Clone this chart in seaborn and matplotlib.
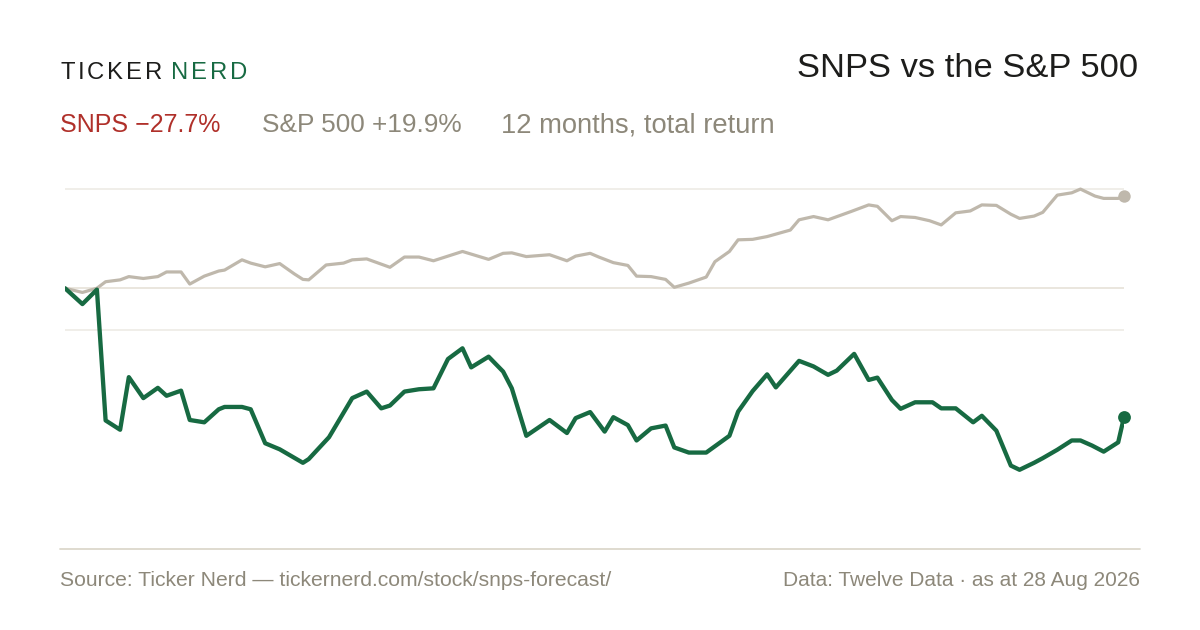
import pandas as pd
import matplotlib.pyplot as plt
from matplotlib.lines import Line2D
import seaborn as sns

# 12-month total return (%); x = days since 28 Aug 2025
snps_days = [0, 6, 11, 14, 19, 22, 27, 32, 35, 40, 43, 48, 53, 55, 61, 64, 69, 74,
             82, 84, 91, 99, 104, 109, 112, 117, 122, 127, 132, 137, 140, 146, 151,
             154, 159, 167, 173, 176, 181, 186, 189, 194, 197, 202, 207, 210, 215,
             221, 229, 232, 237, 242, 245, 253, 258, 263, 266, 272, 277, 280, 285,
             288, 293, 299, 302, 307, 313, 316, 321, 326, 329, 334, 337, 342, 347,
             350, 354, 358, 363, 365]
snps_ret = [0.0, -3.4, -0.3, -28.4, -30.4, -19.1, -23.6, -21.4, -23.1, -22.0, -28.3,
            -28.8, -26.0, -25.5, -25.5, -26.0, -33.3, -34.6, -37.5, -36.7, -32.0,
            -23.6, -22.2, -25.8, -25.2, -22.2, -21.7, -21.5, -15.2, -12.9, -17.0,
            -14.7, -17.9, -21.5, -31.7, -28.3, -31.1, -27.9, -26.6, -30.8, -27.7,
            -29.4, -32.7, -30.1, -29.5, -34.2, -35.3, -35.3, -31.7, -26.5, -22.1,
            -18.5, -21.3, -15.6, -16.8, -18.6, -17.7, -14.1, -19.7, -19.2, -24.0,
            -25.9, -24.5, -24.5, -25.8, -25.8, -28.8, -27.4, -30.6, -38.1, -39.0,
            -37.5, -36.5, -34.7, -32.7, -32.7, -33.8, -35.1, -33.1, -27.7]

spx_days = [0, 6, 11, 14, 19, 22, 27, 32, 35, 40, 43, 48, 53, 55, 61, 64, 69, 74,
            79, 82, 84, 90, 96, 99, 104, 112, 117, 122, 127, 137, 146, 151, 154,
            159, 167, 173, 176, 181, 184, 189, 194, 197, 202, 207, 210, 215, 221,
            224, 229, 232, 237, 242, 250, 253, 258, 263, 271, 277, 280, 285, 288,
            293, 298, 302, 307, 312, 316, 321, 326, 329, 334, 337, 342, 347, 350,
            355, 358, 363, 365]
spx_ret = [0.0, -0.9, 0.0, 1.4, 1.8, 2.5, 2.1, 2.5, 3.5, 3.5, 0.9, 2.6, 3.7, 3.9,
           6.1, 5.4, 4.6, 5.3, 3.1, 1.9, 1.8, 5.0, 5.4, 6.1, 6.3, 4.5, 6.7, 6.7,
           5.9, 7.9, 6.2, 7.5, 7.6, 6.8, 7.2, 5.9, 6.9, 7.5, 6.7, 5.5, 4.9, 2.6,
           2.5, 1.9, 0.2, 1.1, 2.4, 5.7, 7.9, 10.4, 10.5, 11.1, 12.5, 14.7, 15.4,
           14.7, 16.5, 17.9, 17.6, 14.5, 15.4, 15.2, 14.5, 13.6, 16.2, 16.6, 17.9,
           17.8, 15.9, 15.0, 15.5, 16.3, 20.0, 20.5, 21.3, 19.8, 19.3, 19.3, 19.9]

grid_levels = [21.3, 0.0, -8.9]

start = pd.Timestamp('2025-08-28')
snps = pd.DataFrame({'date': start + pd.to_timedelta(snps_days, unit='D'), 'ret': snps_ret})
spx = pd.DataFrame({'date': start + pd.to_timedelta(spx_days, unit='D'), 'ret': spx_ret})

GREEN = '#176a42'
SAND = '#bfb8ac'
RED = '#b0302a'
MUTED = '#8d887a'
INK = '#1d1d1b'

sns.set_theme(style='white')
plt.rcParams['font.family'] = ['Liberation Sans', 'DejaVu Sans']

W, H = 1200, 630
fig = plt.figure(figsize=(W / 100, H / 100), dpi=100)
fig.patch.set_facecolor('white')


def fx(px):
    return px / W


def fy(py):
    return 1 - py / H


# plot area: x 65..1124 px, y 170..548 px
ax = fig.add_axes([fx(65), fy(548), fx(1124 - 65), (548 - 170) / H])
ax.set_facecolor('none')

for lvl in grid_levels:
    ax.axhline(lvl, color='#e6e2d8' if lvl == 0 else '#eeebe5', lw=1.2, zorder=0)

sns.lineplot(data=spx, x='date', y='ret', color=SAND, lw=2.3, ax=ax,
             solid_joinstyle='round', solid_capstyle='round', zorder=2)
sns.lineplot(data=snps, x='date', y='ret', color=GREEN, lw=3.1, ax=ax,
             solid_joinstyle='round', solid_capstyle='round', zorder=3)
ax.scatter(spx['date'].iloc[-1], spx['ret'].iloc[-1], s=80, color=SAND,
           zorder=4, clip_on=False, linewidths=0)
ax.scatter(snps['date'].iloc[-1], snps['ret'].iloc[-1], s=85, color=GREEN,
           zorder=5, clip_on=False, linewidths=0)

ax.set_xlim(start, start + pd.Timedelta(days=365))
ax.set_ylim(-55.8, 25.4)
ax.set_xticks([])
ax.set_yticks([])
ax.set_xlabel('')
ax.set_ylabel('')
sns.despine(ax=ax, left=True, bottom=True)

# baseline rule above footer
fig.add_artist(Line2D([fx(60), fx(1140)], [fy(548.5), fy(548.5)],
                      color='#dcd8cc', lw=1.3))

# brand mark, letter-spaced
renderer = fig.canvas.get_renderer()
x = 60.5
for word, col in [('TICKER', INK), ('NERD', GREEN)]:
    for ch in word:
        t = fig.text(fx(x), fy(79), ch, color=col, fontsize=17.2,
                     ha='left', va='baseline')
        x += t.get_window_extent(renderer).width + 2.8
    x += 6.5

fig.text(fx(1138), fy(77), 'SNPS vs the S&P 500', color=INK, fontsize=24.8,
         ha='right', va='baseline')

fig.text(fx(60), fy(132.5), 'SNPS \u221227.7%', color=RED, fontsize=18,
         ha='left', va='baseline')
fig.text(fx(262), fy(132.5), 'S&P 500 +19.9%', color=MUTED, fontsize=18.9,
         ha='left', va='baseline')
fig.text(fx(501), fy(132.5), '12 months, total return', color=MUTED, fontsize=19.7,
         ha='left', va='baseline')

fig.text(fx(60), fy(586), 'Source: Ticker Nerd \u2014 tickernerd.com/stock/snps-forecast/',
         color=MUTED, fontsize=15.2, ha='left', va='baseline')
fig.text(fx(1140), fy(586), 'Data: Twelve Data \u00b7 as at 28 Aug 2026',
         color=MUTED, fontsize=15, ha='right', va='baseline')

fig.savefig('out.png', dpi=100, facecolor='white')
